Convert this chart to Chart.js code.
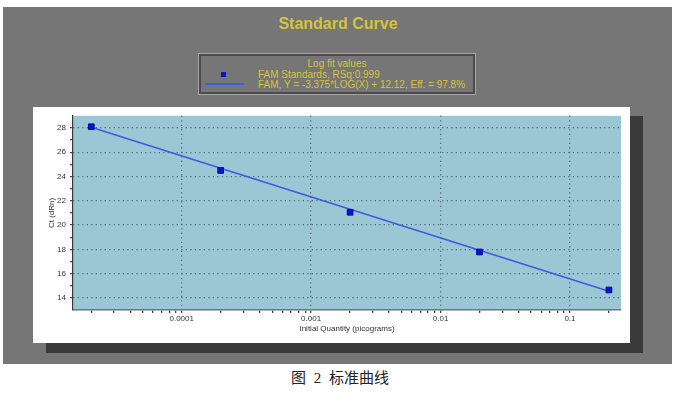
<!DOCTYPE html>
<html>
<head>
<meta charset="utf-8">
<title>Standard Curve</title>
<script src="https://cdn.jsdelivr.net/npm/chart.js@4.4.0/dist/chart.umd.min.js"></script>
<style>
  body { margin: 0; background: #fff; font-family: "Liberation Sans", Arial, sans-serif; }
  #page { position: relative; width: 680px; height: 397px; overflow: hidden; }
  #panel { position: absolute; left: 3px; top: 7px; width: 669px; height: 357px; background: #767676; }
  #title { position: absolute; left: 3px; top: 15px; width: 670px; text-align: center;
           color: #d4c33c; font-weight: bold; font-size: 16px; }
  #legend { position: absolute; left: 198px; top: 53px; width: 276px; height: 40px;
            border: 1px solid #a6a6a6; box-shadow: inset 0 0 0 2px #4c4c4c;
            color: #d4c33c; font-size: 10px; }
  #legend .ltitle { position: absolute; left: 0; top: 4px; width: 100%; text-align: center; }
  #legend .item { position: absolute; left: 59px; white-space: nowrap; }
  #legend .sym { position: absolute; }
  #shadow { position: absolute; left: 46px; top: 116px; width: 597px; height: 237px; background: #3a3a3a; }
  #plotbox { position: absolute; left: 33px; top: 107px; width: 597px; height: 236px; background: #fff; }
  #caption { position: absolute; left: 0; top: 366px; width: 680px; text-align: center;
             font-family: "Liberation Serif", "Noto Sans CJK SC", serif; font-size: 15px; color: #222;
             word-spacing: 4px; }
</style>
</head>
<body>
<div id="page">
  <div id="panel"></div>
  <div id="title">Standard Curve</div>
  <div id="legend"></div>
  <div id="shadow"></div>
  <div id="plotbox"><canvas id="curveChart" width="597" height="236"></canvas></div>
  <div id="caption">图 2 标准曲线</div>
</div>

<script>
// Standards: quantity (picograms) and measured Ct
const quantities = [0.00002, 0.0002, 0.002, 0.02, 0.2];
const ctValues = [28.1, 24.5, 21.05, 17.78, 14.65];

// Log fit line, read at both ends of the standards
const fitQuantities = [0.00002, 0.2];
const fitCt = [28.05, 14.55];

// Axis ticks
const xMajorTicks = [0.0001, 0.001, 0.01, 0.1];
const xTickLabels = ['0.0001', '0.001', '0.01', '0.1'];
const xMinorFactors = [2, 3, 4, 5, 6, 7, 8, 9];
const xDecades = [0.00001, 0.0001, 0.001, 0.01, 0.1];
const yMajorTicks = [14, 16, 18, 20, 22, 24, 26, 28];
const yMinorTicks = [15, 17, 19, 21, 23, 25, 27];

const legendTitle = 'Log fit values';
const seriesNames = ['FAM Standards, RSq:0.999', 'FAM, Y = -3.375*LOG(X) + 12.12, Eff. = 97.8%'];

const plotBlue = '#9bc7d5';
const gridDots = 'rgba(70, 95, 105, 0.85)';
const dotDash = [1.3, 3.2]; // dotted grid (border.dash styles the grid lines in v4)

// paints the light blue plot area behind everything
const plotBackground = {
  id: 'plotBackground',
  beforeDraw(chart) {
    const a = chart.chartArea;
    const ctx = chart.ctx;
    ctx.save();
    ctx.fillStyle = plotBlue;
    ctx.fillRect(a.left, a.top, a.right - a.left, a.bottom - a.top);
    ctx.restore();
  }
};

function buildLegend(chart) {
  const box = document.getElementById('legend');
  const t = document.createElement('div');
  t.className = 'ltitle';
  t.textContent = legendTitle;
  box.appendChild(t);

  chart.data.datasets.forEach(function (ds, i) {
    const row = document.createElement('div');
    row.className = 'item';
    row.style.top = (15 + i * 10) + 'px';
    row.textContent = ds.label;
    box.appendChild(row);

    const sym = document.createElement('div');
    sym.className = 'sym';
    if (ds.showLine === false) {
      // square marker
      sym.style.left = '22px';
      sym.style.top = '18px';
      sym.style.width = '5px';
      sym.style.height = '5px';
      sym.style.background = ds.pointBackgroundColor;
    } else {
      // fit line sample
      sym.style.left = '6px';
      sym.style.top = '29px';
      sym.style.width = '39px';
      sym.style.height = '2px';
      sym.style.background = ds.borderColor;
    }
    box.appendChild(sym);
  });
}

function initializeChart() {
  const ctx = document.getElementById('curveChart').getContext('2d');
  const tickFont = { family: '"Liberation Sans", Arial, sans-serif', size: 8 };

  const chart = new Chart(ctx, {
    type: 'scatter',
    data: {
      datasets: [
        {
          label: seriesNames[0],
          data: quantities.map((q, i) => ({ x: q, y: ctValues[i] })),
          showLine: false,
          pointStyle: 'rect',
          pointRadius: 4,
          pointBackgroundColor: '#0a14c8',
          pointBorderColor: '#0000a0',
          pointBorderWidth: 1,
          order: 0
        },
        {
          label: seriesNames[1],
          data: fitQuantities.map((q, i) => ({ x: q, y: fitCt[i] })),
          showLine: true,
          borderColor: '#3a5ce0',
          borderWidth: 1.6,
          pointRadius: 0,
          order: 1
        }
      ]
    },
    options: {
      responsive: false,
      animation: false,
      layout: { padding: { left: 0, right: 9, top: 8, bottom: 0 } },
      plugins: {
        legend: { display: false },
        tooltip: { enabled: false }
      },
      scales: {
        x: {
          type: 'logarithmic',
          min: 0.00001445,
          max: 0.248,
          bounds: 'data',
          afterBuildTicks(scale) {
            const ticks = [];
            xDecades.forEach(function (d) {
              xMinorFactors.forEach(function (f) {
                ticks.push({ value: d * f, major: false });
              });
              if (xMajorTicks.includes(d * 10)) ticks.push({ value: d * 10, major: true });
            });
            scale.ticks = ticks.filter(t => t.value >= scale.min && t.value <= scale.max)
                               .sort((a, b) => a.value - b.value);
          },
          afterFit(scale) { scale.height = 33; },
          ticks: {
            autoSkip: false,
            maxRotation: 0,
            padding: 1,
            color: '#333',
            font: tickFont,
            callback: function (value) {
              const k = xMajorTicks.findIndex(m => Math.abs(m - value) / m < 1e-6);
              return k >= 0 ? xTickLabels[k] : '';
            }
          },
          grid: {
            color: c => (c.tick && xMajorTicks.some(m => Math.abs(m - c.tick.value) / m < 1e-6)) ? gridDots : 'transparent',
            tickColor: '#444',
            tickLength: 3,
            lineWidth: 1.3
          },
          border: { display: true, color: '#6a777d', width: 1.5, dash: dotDash },
          title: {
            display: true,
            text: 'Initial Quantity (picograms)',
            color: '#333',
            font: tickFont,
            padding: { top: 0, bottom: 9 }
          }
        },
        y: {
          type: 'linear',
          min: 13,
          max: 29,
          afterBuildTicks(scale) {
            scale.ticks = yMajorTicks.concat(yMinorTicks).sort((a, b) => a - b)
                                     .map(v => ({ value: v }));
          },
          afterFit(scale) { scale.width = 40; },
          ticks: {
            autoSkip: false,
            padding: 4,
            color: '#333',
            font: tickFont,
            callback: v => yMajorTicks.includes(v) ? String(v) : ''
          },
          grid: {
            color: c => (c.tick && yMajorTicks.includes(c.tick.value)) ? gridDots : 'transparent',
            tickColor: '#444',
            tickLength: 3,
            lineWidth: 1.3
          },
          border: { display: true, color: '#3a3a3a', width: 1.2, dash: dotDash },
          title: {
            display: true,
            text: 'Ct (dRn)',
            color: '#333',
            font: tickFont,
            padding: { top: 14, bottom: 0 }
          }
        }
      }
    },
    plugins: [plotBackground]
  });

  buildLegend(chart);
}

document.addEventListener('DOMContentLoaded', () => {
  initializeChart();
});
</script>
</body>
</html>
